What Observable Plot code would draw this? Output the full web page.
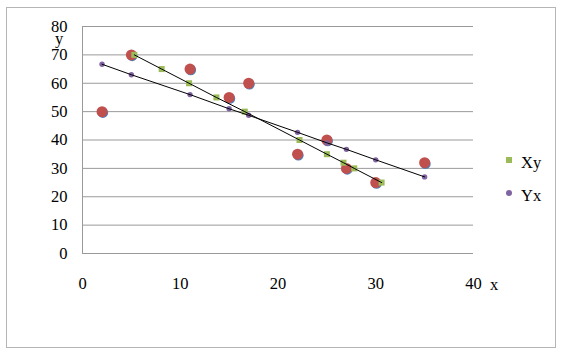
<!DOCTYPE html>
<html>
<head>
<meta charset="utf-8">
<script src="https://cdn.jsdelivr.net/npm/d3@7"></script>
<script src="https://cdn.jsdelivr.net/npm/@observablehq/plot@0.6"></script>
<style>
  html, body { margin: 0; padding: 0; background: #fff; }
  #wrap { position: relative; width: 562px; height: 356px; font-family: 'Liberation Serif', 'DejaVu Serif', serif; }
  #wrap svg { position: absolute; left: 0; top: 0; }
  #wrap svg text { font-family: 'Liberation Serif', 'DejaVu Serif', serif; }
  .border { position: absolute; left: 6px; top: 7px; width: 548px; height: 339px; border: 1.5px solid #b5b5b5; }
  .lab { position: absolute; font-size: 16.5px; line-height: 1; color: #000; font-family: 'Liberation Serif', 'DejaVu Serif', serif; }
  .sw { position: absolute; }
</style>
</head>
<body>
<div id="wrap">
  <div class="border"></div>
</div>
<script>
// Observed data
const xData = [2, 5, 11, 15, 17, 22, 25, 27, 30, 35];
const yData = [50, 70, 65, 55, 60, 35, 40, 30, 25, 32];
// Series "Yx": regression of y on x, evaluated at each x
const yxFit = [66.7, 63, 56, 51, 48.7, 42.7, 39, 36.7, 33, 27];
// Series "Xy": regression of x on y, evaluated at each y (paired with yData)
const xyFit = [16.6, 5.3, 8.1, 13.7, 10.9, 25.0, 22.2, 27.8, 30.6, 26.7];
const xTicks = [0, 10, 20, 30, 40];
const yTicks = [0, 10, 20, 30, 40, 50, 60, 70, 80];
const legendLabels = ["Xy", "Yx"];

const obs = xData.map((x, i) => ({x, y: yData[i]}));
const yx = xData.map((x, i) => ({x, y: yxFit[i]}));
const xy = yData.map((y, i) => ({x: xyFit[i], y}));

const chart = Plot.plot({
  width: 562,
  height: 356,
  marginLeft: 82,
  marginRight: 89,
  marginTop: 26,
  marginBottom: 103,
  style: {fontFamily: "'Liberation Serif', 'DejaVu Serif', serif", fontSize: "16.5px", color: "#000", background: "transparent", overflow: "visible"},
  x: {domain: [0, 40], ticks: xTicks},
  y: {domain: [0, 80], ticks: yTicks},
  marks: [
    Plot.ruleY(yTicks, {stroke: "#9a9a9a", strokeWidth: 1}),
    Plot.ruleX([0], {stroke: "#9a9a9a", strokeWidth: 1}),
    Plot.dot(obs, {x: "x", y: "y", r: 5.3, fill: "#4F81BD", dx: 0.8, dy: 1}),
    Plot.dot(obs, {x: "x", y: "y", r: 5.5, fill: "#C0504D"}),
    Plot.dot(xy, {x: "x", y: "y", symbol: "square", r: 3.4, fill: "#9BBB59"}),
    Plot.dot(yx, {x: "x", y: "y", r: 2.7, fill: "#8064A2"}),
    Plot.line(xy, {x: "x", y: "y", sort: {channel: "y"}, stroke: "#000", strokeWidth: 1}),
    Plot.line(yx, {x: "x", y: "y", stroke: "#000", strokeWidth: 1}),
    Plot.axisY({ticks: yTicks, tickSize: 0, tickPadding: 15, label: null, fontSize: 16.5}),
    Plot.axisX({ticks: xTicks, tickSize: 0, tickPadding: 24, label: null, fontSize: 16.5})
  ]
});

const wrap = document.getElementById("wrap");
wrap.appendChild(chart);

function addLabel(text, left, top, extra) {
  const d = document.createElement("div");
  d.className = "lab";
  d.textContent = text;
  d.style.left = left + "px";
  d.style.top = top + "px";
  if (extra) Object.assign(d.style, extra);
  wrap.appendChild(d);
}
addLabel("y", 55, 33, {lineHeight: "0.75"});
addLabel("x", 490, 277);

// Legend
const sq = document.createElement("div");
sq.className = "sw";
Object.assign(sq.style, {left: "506px", top: "157px", width: "6px", height: "6px", background: "#9BBB59"});
wrap.appendChild(sq);
const ci = document.createElement("div");
ci.className = "sw";
Object.assign(ci.style, {left: "506px", top: "190px", width: "6px", height: "6px", background: "#8064A2", borderRadius: "50%"});
wrap.appendChild(ci);
addLabel(legendLabels[0], 521, 155);
addLabel(legendLabels[1], 521, 188);
</script>
</body>
</html>
